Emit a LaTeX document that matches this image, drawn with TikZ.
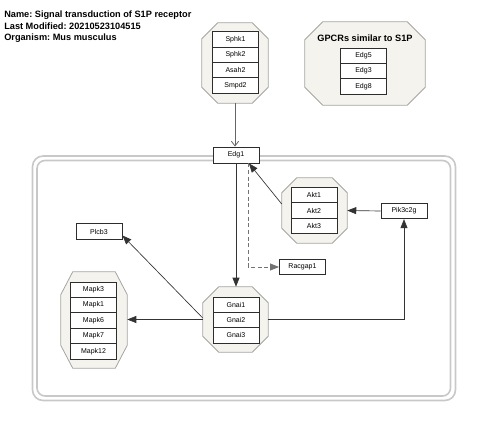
\documentclass[tikz,border=0pt]{standalone}
\usepackage{fontspec}
\setmainfont{Liberation Sans}
\usetikzlibrary{arrows.meta,calc}
\frenchspacing
\definecolor{octfill}{RGB}{244,243,237}
\definecolor{octdraw}{RGB}{165,165,165}
\definecolor{framec}{RGB}{200,200,200}
\definecolor{boxdraw}{RGB}{45,45,45}
\newcommand\octo[7]{%
  \node[grp, minimum width=#4*0.75pt, minimum height=#5*0.75pt] (#1) at (#2,#3) {};
  \draw[octa] ($(#1.north west)+(#6,0)$) -- ($(#1.north east)+(-#6,0)$) -- ($(#1.north east)+(0,#7)$) -- ($(#1.south east)+(0,-#7)$) -- ($(#1.south east)+(-#6,0)$) -- ($(#1.south west)+(#6,0)$) -- ($(#1.south west)+(0,-#7)$) -- ($(#1.north west)+(0,#7)$) -- cycle;}
\begin{document}
\begin{tikzpicture}[x=0.75pt,y=-0.75pt,
  gene/.style={draw=boxdraw, fill=white, line width=0.7pt, minimum width=34.5pt, minimum height=11.5pt, inner sep=0pt, font=\fontsize{5.25pt}{6pt}\selectfont},
  grp/.style={inner sep=0pt, draw=none},
  octa/.style={draw=octdraw, fill=octfill, line width=0.6pt},
  conn/.style={draw=black!80, line width=0.5pt},
  arr/.style={conn, -{Triangle[length=6.75pt,width=5.25pt]}},
  openarr/.style={draw=black!60, line width=0.6pt, -{Straight Barb[length=3.5pt,width=5.5pt]}},
  dasharr/.style={draw=black!55, line width=0.6pt, dash pattern=on 3pt off 2pt, -{Triangle[length=6.75pt,width=5.25pt]}},
  titletext/.style={font=\fontsize{6.9pt}{8pt}\selectfont\bfseries, inner sep=0pt},
  framel/.style={draw=framec, line width=1.2pt}]
\useasboundingbox (0,0) rectangle (480,425);

% title
\node[titletext, anchor=base west] (t1) at (4,17.5) {Name: Signal transduction of S1P receptor};
\node[titletext, anchor=base west] (t2) at (4,29.3) {Last Modified: 20210523104515};
\node[titletext, anchor=base west] (t3) at (4,40.8) {Organism: Mus musculus};

% frame
\draw[framel, rounded corners=8pt] (32.5,156) rectangle (455.5,400.5);
\draw[framel, rounded corners=6pt] (37,160.5) rectangle (450.5,396);

% groups
\octo{sphk}{235}{63}{66}{80}{16}{16}
\octo{gpcr}{365}{63.5}{120}{83}{18}{18}
\octo{akt}{314.5}{210.5}{65}{65}{15}{15}
\octo{gnai}{235.5}{319.5}{65}{65}{16}{16}
\octo{mapk}{94}{320}{66}{96}{12}{23}

\node[gene] (sphk1) at (235.5,39.6) {Sphk1};
\node[gene] (sphk2) at (235.5,54.9) {Sphk2};
\node[gene] (asah2) at (235.5,70.1) {Asah2};
\node[gene] (smpd2) at (235.5,85.4) {Smpd2};

\node[titletext] (gpcrlabel) at (365,38) {GPCRs similar to S1P};
\node[gene] (edg5) at (363.5,55.7) {Edg5};
\node[gene] (edg3) at (363.5,71) {Edg3};
\node[gene] (edg8) at (363.5,86.3) {Edg8};

\node[gene] (akt1) at (314,195.2) {Akt1};
\node[gene] (akt2) at (314,210.5) {Akt2};
\node[gene] (akt3) at (314,225.8) {Akt3};

\node[gene] (gnai1) at (236,304.7) {Gnai1};
\node[gene] (gnai2) at (236,320) {Gnai2};
\node[gene] (gnai3) at (236,335.3) {Gnai3};

\node[gene] (mapk3) at (93.5,289.7) {Mapk3};
\node[gene] (mapk1) at (93.5,305.1) {Mapk1};
\node[gene] (mapk6) at (93.5,320.5) {Mapk6};
\node[gene] (mapk7) at (93.5,335.9) {Mapk7};
\node[gene] (mapk12) at (93.5,351.3) {Mapk12};

\node[gene] (pik) at (404,211) {Pik3c2g};
\node[gene] (racgap1) at (302.5,267) {Racgap1};
\node[gene] (plcb3) at (99,231.5) {Plcb3};

% Edg1 on top of frame
\node[gene, minimum height=12pt] (edg1) at (236,155) {Edg1};

% connectors
\draw[openarr] (sphk.south) -- (sphk.south |- edg1.north);
\draw[arr] (edg1.south) -- (edg1.south |- gnai.north);
\draw[dasharr] ($(edg1.south)+(12,0)$) |- (racgap1.west);
\draw[arr] ($(akt.west)+(0,-6.5)$) -- ($(edg1.south)+(13,0)$);
\draw[arr] (pik.west) -- (akt.east);
\draw[arr] (gnai.east) -| (pik.south);
\draw[arr] ($(gnai.west)+(0,-1.5)$) -- ($(plcb3.east)+(0,4)$);
\draw[arr] (gnai.west) -- (gnai.west -| mapk.east);
\end{tikzpicture}
\end{document}
